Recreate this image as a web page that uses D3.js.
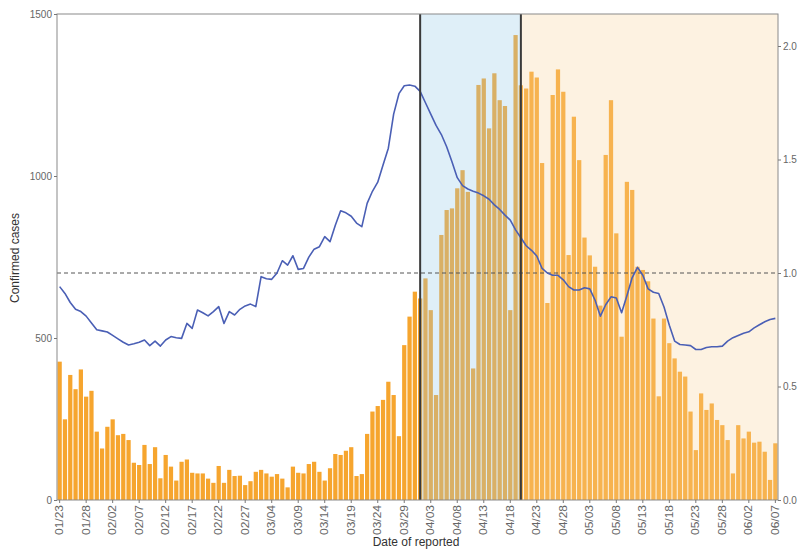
<!DOCTYPE html>
<html>
<head>
<meta charset="utf-8">
<script src="https://cdn.jsdelivr.net/npm/d3@7"></script>
<style>
  html, body { margin: 0; padding: 0; background: #ffffff; }
  svg { display: block; font-family: "Liberation Sans", Arial, sans-serif; }
</style>
</head>
<body>
<svg id="chart" width="799" height="551"></svg>
<script>
// ---- data ----
const categories = [
  "01/23","01/24","01/25","01/26","01/27","01/28","01/29","01/30","01/31",
  "02/01","02/02","02/03","02/04","02/05","02/06","02/07","02/08","02/09","02/10","02/11","02/12","02/13","02/14",
  "02/15","02/16","02/17","02/18","02/19","02/20","02/21","02/22","02/23","02/24","02/25","02/26","02/27","02/28",
  "03/01","03/02","03/03","03/04","03/05","03/06","03/07","03/08","03/09","03/10","03/11","03/12","03/13","03/14",
  "03/15","03/16","03/17","03/18","03/19","03/20","03/21","03/22","03/23","03/24","03/25","03/26","03/27","03/28",
  "03/29","03/30","03/31",
  "04/01","04/02","04/03","04/04","04/05","04/06","04/07","04/08","04/09","04/10","04/11","04/12","04/13","04/14",
  "04/15","04/16","04/17","04/18","04/19","04/20","04/21","04/22","04/23","04/24","04/25","04/26","04/27","04/28",
  "04/29","04/30",
  "05/01","05/02","05/03","05/04","05/05","05/06","05/07","05/08","05/09","05/10","05/11","05/12","05/13","05/14",
  "05/15","05/16","05/17","05/18","05/19","05/20","05/21","05/22","05/23","05/24","05/25","05/26","05/27","05/28",
  "05/29","05/30","05/31",
  "06/01","06/02","06/03","06/04","06/05","06/06","06/07"
];

const cases = [
  427, 249, 386, 342, 403, 319, 337, 211, 159, 226,
  249, 200, 204, 185, 115, 108, 170, 111, 163, 67,
  139, 103, 60, 118, 125, 84, 82, 82, 66, 53,
  105, 53, 93, 74, 75, 46, 58, 87, 93, 82,
  72, 80, 66, 39, 103, 84, 82, 111, 118, 87,
  60, 98, 142, 139, 152, 163, 74, 80, 204, 273,
  290, 309, 365, 324, 197, 478, 566, 643, 622, 684,
  586, 324, 818, 895, 900, 962, 1018, 951, 406, 1281,
  1301, 1147, 1317, 1234, 1216, 586, 1435, 1280, 1270, 1322,
  1304, 1040, 608, 1250, 1329, 1260, 756, 1183, 1049, 810,
  755, 720, 600, 1065, 1234, 823, 504, 982, 957, 720,
  710, 675, 560, 320, 560, 484, 437, 396, 381, 273,
  154, 329, 278, 298, 247, 231, 185, 82, 231, 190,
  211, 177, 180, 149, 62, 175
];

const rt = [
  0.94, 0.91, 0.87, 0.84, 0.83, 0.81, 0.78, 0.75, 0.745, 0.74,
  0.725, 0.71, 0.695, 0.683, 0.688, 0.695, 0.705, 0.68, 0.70, 0.678,
  0.705, 0.72, 0.715, 0.712, 0.778, 0.756, 0.837, 0.825, 0.811, 0.83,
  0.852, 0.778, 0.83, 0.815, 0.84, 0.855, 0.863, 0.852, 0.984, 0.975,
  0.972, 1.00, 1.054, 1.035, 1.076, 1.016, 1.02, 1.07, 1.105, 1.116,
  1.16, 1.138, 1.21, 1.274, 1.265, 1.25, 1.22, 1.204, 1.307, 1.36,
  1.40, 1.476, 1.55, 1.70, 1.79, 1.825, 1.828, 1.823, 1.80, 1.75,
  1.70, 1.65, 1.61, 1.556, 1.49, 1.42, 1.385, 1.37, 1.36, 1.352,
  1.34, 1.325, 1.30, 1.28, 1.255, 1.233, 1.19, 1.155, 1.12, 1.10,
  1.075, 1.02, 1.00, 0.99, 0.99, 0.97, 0.94, 0.925, 0.925, 0.935,
  0.93, 0.88, 0.81, 0.86, 0.895, 0.89, 0.825, 0.90, 0.98, 1.025,
  0.99, 0.93, 0.915, 0.91, 0.85, 0.77, 0.70, 0.685, 0.683, 0.68,
  0.663, 0.663, 0.672, 0.675, 0.675, 0.678, 0.70, 0.715, 0.725, 0.735,
  0.741, 0.758, 0.772, 0.785, 0.795, 0.80
];

const xTickLabels = [
  "01/23","01/28","02/02","02/07","02/12","02/17","02/22","02/27",
  "03/04","03/09","03/14","03/19","03/24","03/29","04/03","04/08",
  "04/13","04/18","04/23","04/28","05/03","05/08","05/13","05/18",
  "05/23","05/28","06/02","06/07"
];
const leftTicks = [0, 500, 1000, 1500];
const rightTicks = [0, 0.5, 1.0, 1.5, 2.0];
const phaseBreaks = ["04/01", "04/20"];
const rtThreshold = 1.0;

const yTitle = "Confirmed cases";
const xTitle = "Date of reported";

// ---- layout ----
const svg = d3.select("#chart");
const L = 57, R = 778, T = 14, B = 500;

const x = d3.scaleBand().domain(categories).range([L, R]).paddingInner(0.2).paddingOuter(0.1);
const yL = d3.scaleLinear().domain([0, 1500]).range([B, T]);
const yR = d3.scaleLinear().domain([0, 2.141]).range([B, T]);
const cx = d => x(d) + x.bandwidth() / 2;

// bars
svg.append("g").selectAll("rect").data(cases).join("rect")
  .attr("x", (d, i) => x(categories[i]))
  .attr("width", x.bandwidth())
  .attr("y", d => yL(d))
  .attr("height", d => B - yL(d))
  .attr("fill", "#f6a52e");

// phase overlays
const x1 = cx(phaseBreaks[0]), x2 = cx(phaseBreaks[1]);
svg.append("rect").attr("x", x1).attr("y", T).attr("width", x2 - x1).attr("height", B - T)
  .attr("fill", "rgb(150,202,232)").attr("fill-opacity", 0.3);
svg.append("rect").attr("x", x2).attr("y", T).attr("width", R - x2).attr("height", B - T)
  .attr("fill", "rgb(248,212,155)").attr("fill-opacity", 0.3);

// threshold dashed line
svg.append("line")
  .attr("x1", L).attr("x2", R)
  .attr("y1", yR(rtThreshold)).attr("y2", yR(rtThreshold))
  .attr("stroke", "#555").attr("stroke-width", 1).attr("stroke-dasharray", "4,3");

// Rt line
const line = d3.line().x((d, i) => cx(categories[i])).y(d => yR(d));
svg.append("path").datum(rt).attr("d", line)
  .attr("fill", "none").attr("stroke", "#4a5fb5").attr("stroke-width", 1.6)
  .attr("stroke-linejoin", "round");

// phase vertical lines
svg.append("g").selectAll("line").data(phaseBreaks).join("line")
  .attr("x1", d => cx(d)).attr("x2", d => cx(d))
  .attr("y1", T).attr("y2", B)
  .attr("stroke", "#3a3a3a").attr("stroke-width", 2);

// panel border
svg.append("rect").attr("x", L).attr("y", T).attr("width", R - L).attr("height", B - T)
  .attr("fill", "none").attr("stroke", "#8a8a8a").attr("stroke-width", 1);

// axes
const axL = svg.append("g").attr("transform", `translate(${L},0)`)
  .call(d3.axisLeft(yL).tickValues(leftTicks).tickFormat(d3.format("d")).tickSize(3).tickPadding(2));
axL.select(".domain").remove();
axL.selectAll("line").attr("stroke", "#777");
axL.selectAll("text").attr("fill", "#666").style("font-size", "10px");

const axR = svg.append("g").attr("transform", `translate(${R},0)`)
  .call(d3.axisRight(yR).tickValues(rightTicks).tickFormat(d3.format(".1f")).tickSize(3).tickPadding(2));
axR.select(".domain").remove();
axR.selectAll("line").attr("stroke", "#777");
axR.selectAll("text").attr("fill", "#666").style("font-size", "10px");

const axB = svg.append("g").attr("transform", `translate(0,${B})`)
  .call(d3.axisBottom(x).tickValues(xTickLabels).tickSize(3).tickPadding(2));
axB.select(".domain").remove();
axB.selectAll("line").attr("stroke", "#777");
axB.selectAll("text")
  .attr("fill", "#666")
  .style("font-size", "10px")
  .attr("transform", "rotate(-90)")
  .attr("x", -5).attr("y", 0).attr("dy", "0.35em")
  .attr("text-anchor", "end")
  .attr("textLength", 30).attr("lengthAdjust", "spacingAndGlyphs");

// titles
svg.append("text").attr("transform", "translate(19,258) rotate(-90)")
  .attr("text-anchor", "middle").attr("fill", "#333").style("font-size", "12px")
  .text(yTitle);
svg.append("text").attr("x", 416).attr("y", 546)
  .attr("text-anchor", "middle").attr("fill", "#333").style("font-size", "12px")
  .text(xTitle);
</script>
</body>
</html>
